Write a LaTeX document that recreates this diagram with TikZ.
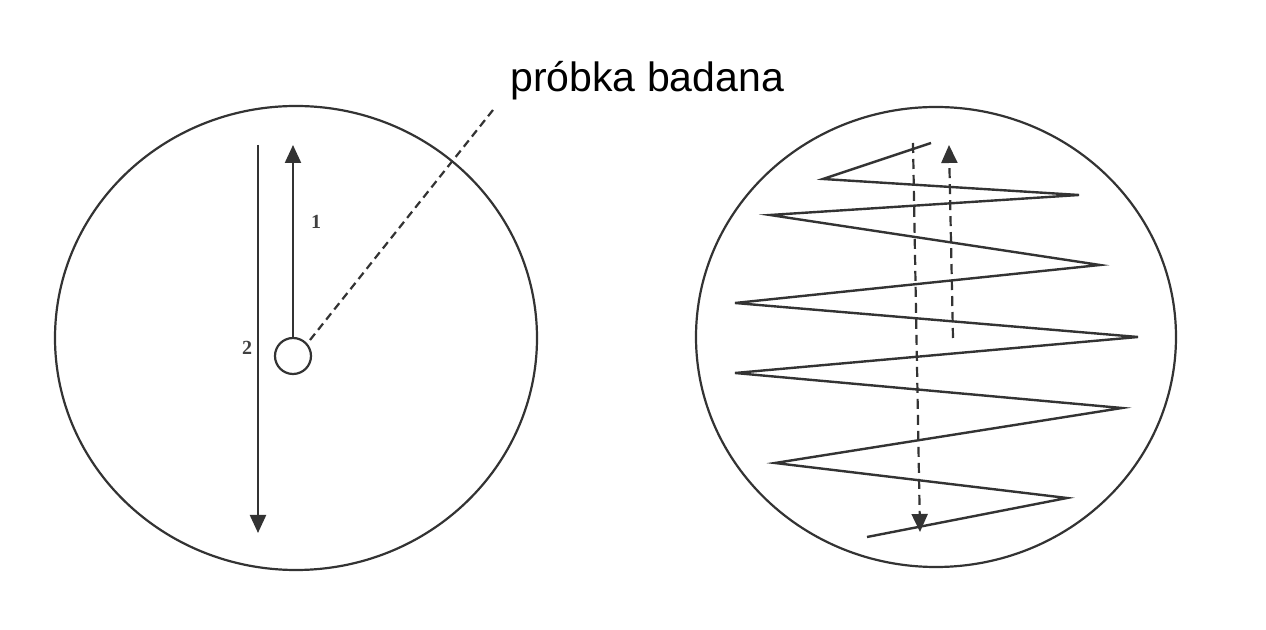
\documentclass[tikz,border=0pt]{standalone}
\usepackage{fontspec}
\setmainfont{Liberation Serif}
\setsansfont{Liberation Sans}
\usetikzlibrary{arrows.meta}
\tikzset{
  ink/.style={draw=black!80, line width=1.1pt},
  tip/.style={-{Triangle[length=9pt,width=8pt]}},
  leader/.style={ink, dash pattern=on 4pt off 2.5pt},
  vdash/.style={ink, dash pattern=on 5pt off 3pt},
  zig/.style={draw=black!80, line width=1.2pt, line join=miter},
  num/.style={font=\fontsize{10}{11}\selectfont\bfseries, inner sep=0pt, text=black!75},
}
\begin{document}
\begin{tikzpicture}[x=0.5pt,y=-0.5pt]
\useasboundingbox (0,0) rectangle (1266,630);
\fill[white] (0,0) rectangle (1266,630);
% left disc
\draw[ink] (296,338) ellipse [x radius=241, y radius=232];
\node[ink, circle, minimum size=18pt, inner sep=0pt] (sample) at (293,356) {};
\coordinate (top1) at (293,145);
\coordinate (top2) at (258,145);
\coordinate (bot2) at (258,533);
\draw[ink, tip] (sample.north) -- (top1);
\draw[ink, tip] (top2) -- (bot2);
\node[num] (n1) at (316,222) {1};
\node[num] (n2) at (247,348) {2};
% label and leader
\node[anchor=base west, inner sep=0pt, font=\sffamily\fontsize{20.5}{24}\selectfont] (lab) at (510,92) {próbka badana};
\coordinate (leadend) at (493,110);
\draw[leader] (310,340) -- (leadend);
% right disc
\draw[ink] (936,337) ellipse [x radius=240, y radius=230];
\coordinate (z0) at (931,143);
\coordinate (z1) at (823,179);
\coordinate (z2) at (1079,195);
\coordinate (z3) at (770,215);
\coordinate (z4) at (1100,265);
\coordinate (z5) at (735,303);
\coordinate (z6) at (1138,337);
\coordinate (z7) at (735,373);
\coordinate (z8) at (1122,408);
\coordinate (z9) at (775,463);
\coordinate (z10) at (1067,498);
\coordinate (z11) at (867,537);
\draw[zig] (z0) -- (z1) -- (z2) -- (z3) -- (z4) -- (z5) -- (z6) -- (z7) -- (z8) -- (z9) -- (z10) -- (z11);
\coordinate (d1a) at (913,143);
\coordinate (d1b) at (920,532);
\coordinate (d2a) at (953,338);
\coordinate (d2b) at (949,145);
\draw[vdash, tip] (d1a) -- (d1b);
\draw[vdash, tip] (d2a) -- (d2b);
\end{tikzpicture}
\end{document}
